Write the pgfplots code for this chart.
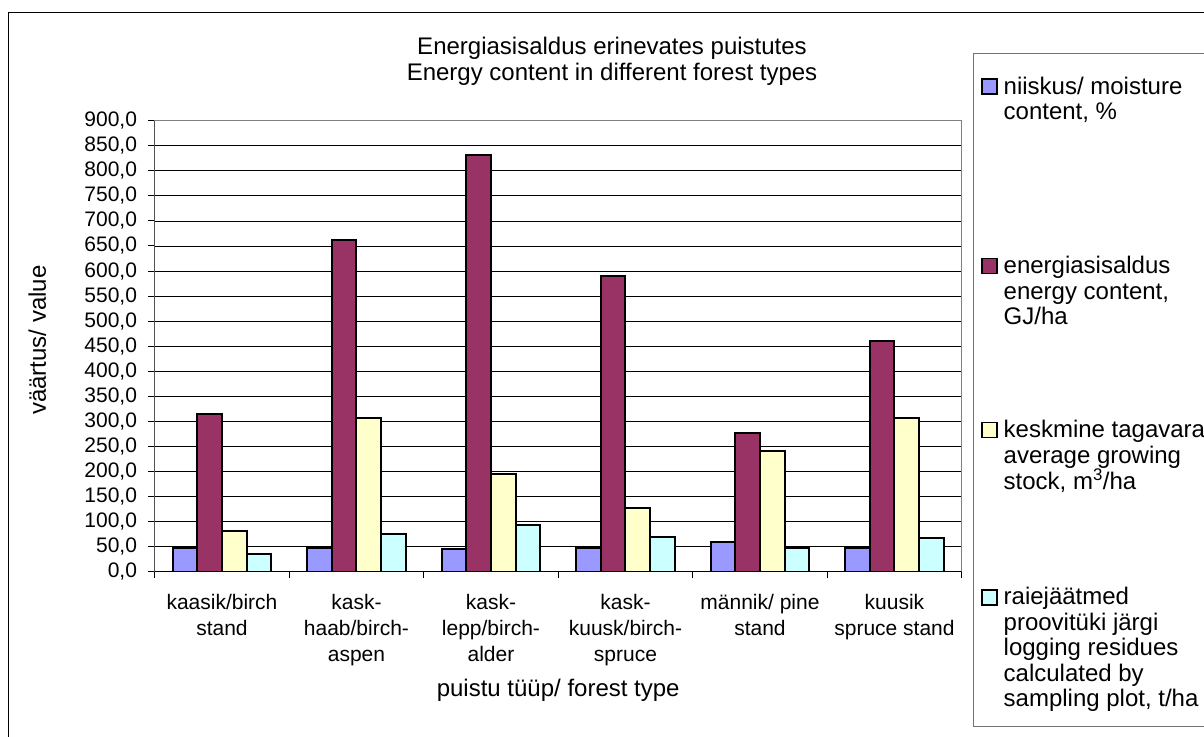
\documentclass[border=0pt]{standalone}
\usepackage{fontspec}
\setmainfont{Liberation Sans}
\usepackage{pgfplots}
\pgfplotsset{compat=1.18}
\definecolor{cBlue}{HTML}{9999FF}
\definecolor{cMaroon}{HTML}{993366}
\definecolor{cYellow}{HTML}{FFFFCC}
\definecolor{cCyan}{HTML}{CCFFFF}
\newcommand{\tickfont}{\fontsize{21}{26}\selectfont}
\newcommand{\bigfont}{\fontsize{24}{26}\selectfont}
\newcommand{\legfont}{\fontsize{24}{25.5}\selectfont}
\pgfplotsset{mylegend/.style={legend image code/.code={\draw[##1, line width=1.5pt] (0pt,0pt) rectangle (15pt,15pt);}}}

\begin{document}
\begin{tikzpicture}[x=1pt,y=1pt]
\useasboundingbox (0,0) rectangle (1204,736);
\draw[black, line width=1pt] (8.3,-5) -- (8.3,723.7) -- (1210,723.7);
\begin{axis}[
  at={(154.7pt,164.3pt)}, anchor=south west,
  scale only axis, width=807pt, height=451pt,
  xmin=-0.5, xmax=5.5, ymin=0, ymax=900,
  ybar,
  ytick={0,50,...,900},
  xtick={0,...,5},
  xticklabels={kaasik/birch\\stand, kask-\\haab/birch-\\aspen, kask-\\lepp/birch-\\alder, kask-\\kuusk/birch-\\spruce, männik/ pine\\stand, kuusik\\spruce stand},
  minor xtick={-0.5,0.5,...,5.5},
  tick align=outside,
  major tick length=7pt, minor tick length=6pt,
  tick style={black, line width=1pt},
  major x tick style={draw=none},
  xtick pos=bottom, ytick pos=left,
  ymajorgrids,
  major grid style={black, line width=0.8pt},
  axis line style={draw=black!50, line width=1.2pt},
  yticklabel style={font=\tickfont, anchor=east, inner sep=0pt, xshift=-10.5pt},
  xticklabel style={font=\tickfont, align=center, anchor=north, inner sep=0pt, yshift=-15.3pt},
  /pgf/number format/.cd, fixed, fixed zerofill, precision=1, use comma, 1000 sep={}, assume math mode=true,
  /pgfplots/.cd,
  xlabel={puistu tüüp/ forest type},
  xlabel style={font=\bigfont, at={(axis description cs:0.5,-0.2778)}, anchor=base, inner sep=0pt},
  ylabel={väärtus/ value},
  ylabel style={font=\bigfont, at={(axis description cs:-0.1347,0.5137)}, anchor=base, inner sep=0pt, rotate=0},
  title={Energiasisaldus erinevates puistutes\\Energy content in different forest types},
  title style={font=\bigfont, align=center, at={(axis description cs:0.5667,1.1718)}, anchor=north, inner sep=0pt},
  legend style={at={(axis description cs:1.0136,1.1508)}, anchor=north west, draw=black!55, line width=1pt,
    inner xsep=8pt, inner ysep=0pt, row sep=0pt, column sep=6pt, nodes={inner sep=0pt, text depth={}, text height={}}, cells={anchor=base west}, font=\legfont},
]
\addplot[bar width=0.1834, bar shift=-0.2751, fill=cBlue, draw=black, line width=2pt, mylegend]
  coordinates {(0,48) (1,48) (2,45) (3,48) (4,59) (5,48)};
\addlegendentry{\parbox[t]{230pt}{\rule{0pt}{41pt}niiskus/ moisture\\content, \%\rule[-136pt]{0pt}{136pt}}}
\addplot[bar width=0.1834, bar shift=-0.0917, fill=cMaroon, draw=black, line width=2pt, mylegend]
  coordinates {(0,315) (1,662) (2,832) (3,591) (4,276) (5,461)};
\addlegendentry{\parbox[t]{230pt}{\rule{0pt}{18pt}energiasisaldus\\energy content,\\GJ/ha\rule[-95pt]{0pt}{95pt}}}
\addplot[bar width=0.1834, bar shift=0.0917, fill=cYellow, draw=black, line width=2pt, mylegend]
  coordinates {(0,81) (1,306) (2,195) (3,128) (4,241) (5,306)};
\addlegendentry{\parbox[t]{230pt}{\rule{0pt}{18pt}keskmine tagavara\\average growing\\stock, m\textsuperscript{3}/ha\rule[-97pt]{0pt}{97pt}}}
\addplot[bar width=0.1834, bar shift=0.2751, fill=cCyan, draw=black, line width=2pt, mylegend]
  coordinates {(0,36) (1,75) (2,93) (3,70) (4,48) (5,68)};
\addlegendentry{\parbox[t]{230pt}{\rule{0pt}{18pt}raiejäätmed\\proovitüki järgi\\logging residues\\calculated by\\sampling plot, t/ha\rule[-20pt]{0pt}{20pt}}}
\draw[black, line width=1pt] (rel axis cs:0,1) -- (rel axis cs:0,0) -- (rel axis cs:1,0);
\end{axis}
\end{tikzpicture}
\end{document}
